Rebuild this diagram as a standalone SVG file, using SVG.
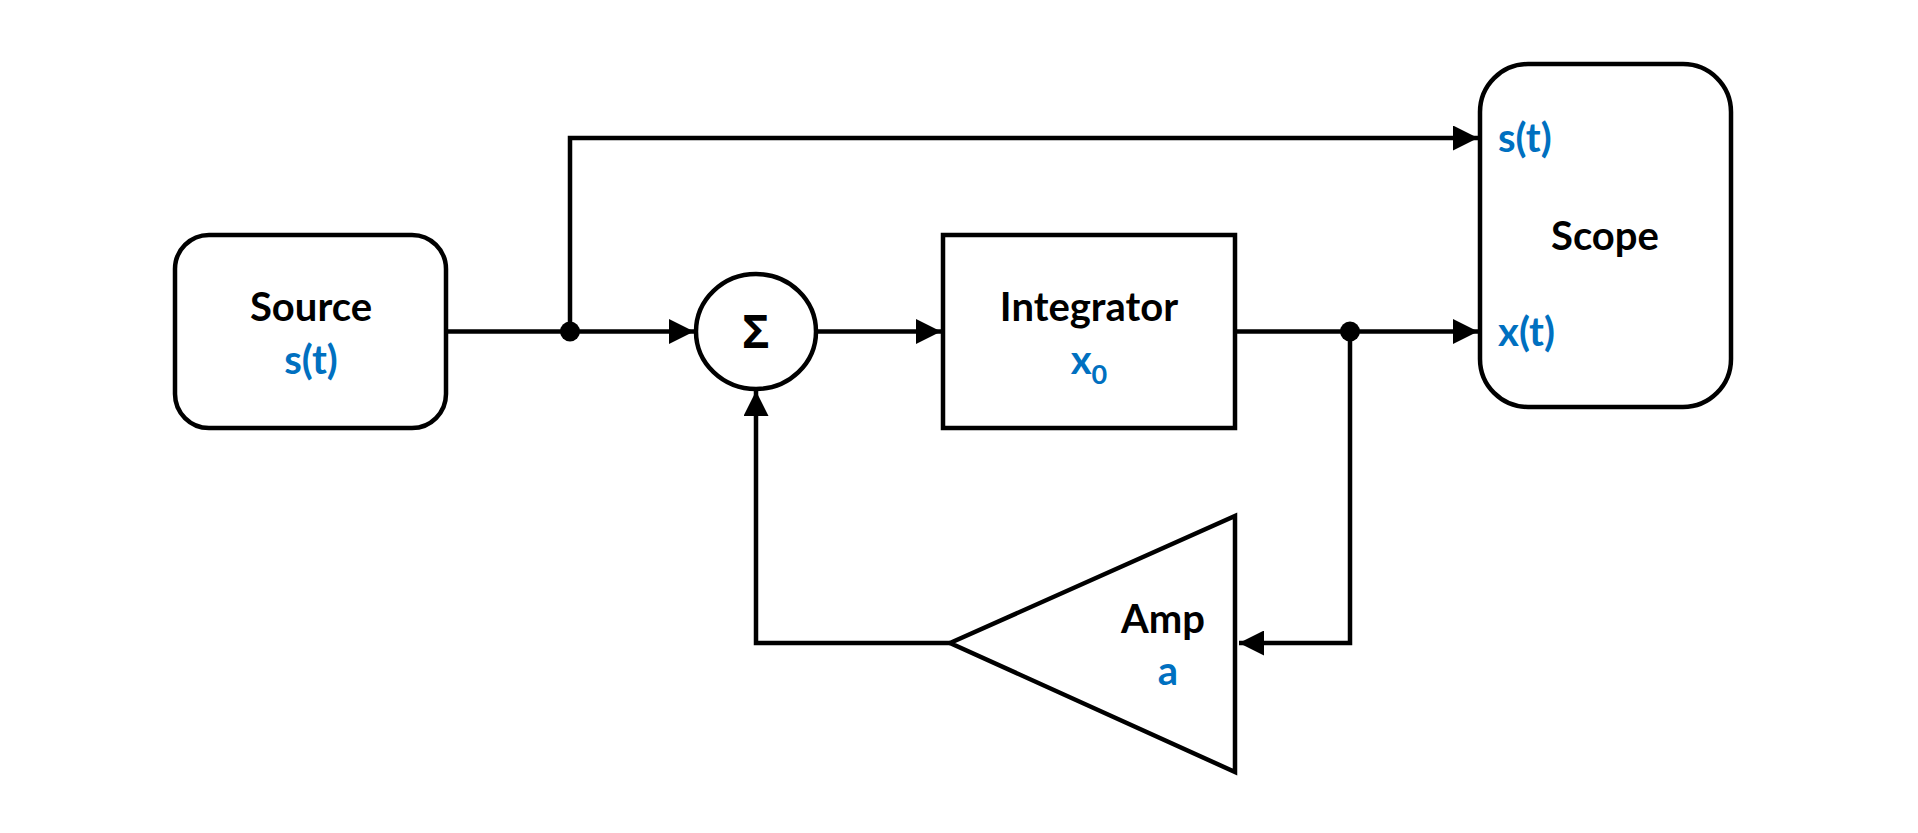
<svg xmlns="http://www.w3.org/2000/svg" width="1918" height="833" viewBox="0 0 1918 833">
<style>
.shape{fill:#fff;stroke:#000;stroke-width:4.5}
.wire{fill:none;stroke:#000;stroke-width:4.5}
.lbl{font-family:Lato,"Open Sans","Liberation Sans",sans-serif;font-weight:bold;font-size:40px;fill:#000}
.blue{fill:#0070C0}
.sig{font-family:"Open Sans","DejaVu Sans",sans-serif;font-weight:bold;font-size:46px;fill:#000}
</style>
<defs>
<marker id="arr" viewBox="0 0 10 10" refX="10" refY="5" markerWidth="25" markerHeight="25" markerUnits="userSpaceOnUse" orient="auto">
<path d="M0,0 L10,5 L0,10 z" fill="#000"/>
</marker>
</defs>
<rect width="1918" height="833" fill="#fff"/>
<g id="connectors">
<path class="wire" d="M446,331.5 H694" marker-end="url(#arr)"/>
<path class="wire" d="M570,331.5 V138 H1478" marker-end="url(#arr)"/>
<path class="wire" d="M816,331.5 H941" marker-end="url(#arr)"/>
<path class="wire" d="M1235,331.5 H1478" marker-end="url(#arr)"/>
<path class="wire" d="M1350,331.5 V643 H1239" marker-end="url(#arr)"/>
<path class="wire" d="M950,643 H756 V391" marker-end="url(#arr)"/>
<circle cx="570" cy="331.5" r="10" fill="#000"/>
<circle cx="1350" cy="331.5" r="10" fill="#000"/>
</g>
<g id="source">
<rect class="shape" x="175" y="235" width="271" height="193" rx="34"/>
<text class="lbl" x="311" y="321" text-anchor="middle">Source</text>
<text class="lbl blue" x="311" y="374" text-anchor="middle">s(t)</text>
</g>
<g id="sum">
<ellipse class="shape" cx="756" cy="331.5" rx="60" ry="57.5"/>
<text class="sig" x="756" y="348" text-anchor="middle">Σ</text>
</g>
<g id="integrator">
<rect class="shape" x="943" y="235" width="292" height="193"/>
<text class="lbl" x="1089" y="321" text-anchor="middle">Integrator</text>
<text class="lbl blue" x="1089" y="374" text-anchor="middle">x<tspan font-size="27" dy="10">0</tspan></text>
</g>
<g id="amp">
<polygon class="shape" points="950,643 1235,516 1235,772"/>
<text class="lbl" x="1163" y="633" text-anchor="middle">Amp</text>
<text class="lbl blue" x="1168" y="685" text-anchor="middle">a</text>
</g>
<g id="scope">
<rect class="shape" x="1480" y="64" width="251" height="343" rx="48"/>
<text class="lbl" x="1605" y="250" text-anchor="middle">Scope</text>
<text class="lbl blue" x="1498" y="152">s(t)</text>
<text class="lbl blue" x="1498" y="346">x(t)</text>
</g>
</svg>
